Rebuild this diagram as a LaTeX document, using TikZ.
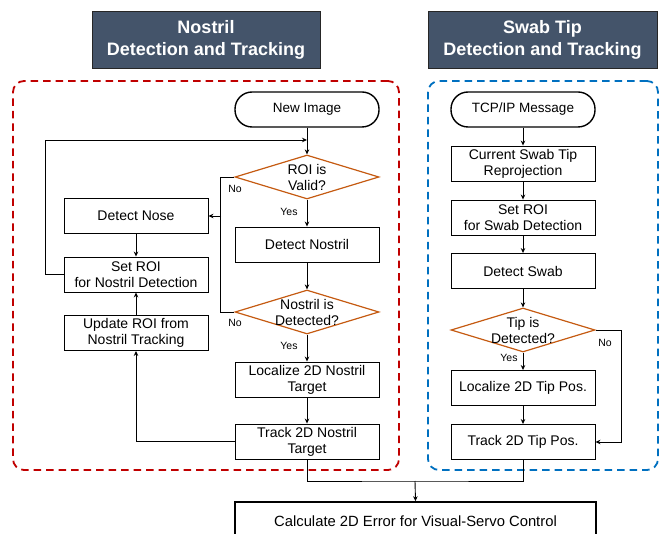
\documentclass[tikz,border=0pt]{standalone}
\usepackage{fontspec}
\setmainfont{Liberation Sans}
\usetikzlibrary{shapes.geometric,arrows.meta}
\definecolor{titlebg}{HTML}{44546A}
\definecolor{redd}{HTML}{C00000}
\definecolor{blued}{HTML}{0070C0}
\definecolor{orng}{HTML}{C55A11}
\begin{document}
\begin{tikzpicture}[x=1pt,y=-1pt,
  box/.style={draw=black, line width=0.9pt, minimum width=144pt, minimum height=35pt, inner sep=0pt, align=center, font=\fontsize{14}{16}\selectfont},
  term/.style={draw=black, line width=1.4pt, rounded corners=17pt, minimum width=144pt, minimum height=35pt, inner sep=0pt, font=\fontsize{13.5}{16}\selectfont},
  dia/.style={diamond, draw=orng, line width=1.2pt, minimum width=144pt, minimum height=44pt, inner sep=0pt},
  dtext/.style={align=center, inner sep=0pt, font=\fontsize{14}{16}\selectfont},
  yn/.style={font=\fontsize{10.5}{12}\selectfont, inner sep=0pt},
  titlebox/.style={fill=titlebg, draw=black!85, line width=0.8pt, text=white, font=\bfseries\fontsize{18}{22}\selectfont, align=center, minimum width=228pt, minimum height=57pt, inner sep=0pt},
  arr/.style={-{Stealth[length=5pt,width=4.5pt]}, line width=0.9pt},
  ln/.style={line width=0.9pt},
  grp/.style={dash pattern=on 7.5pt off 5pt, line width=1.8pt, rounded corners=11pt, minimum width=386pt, minimum height=389pt, inner sep=0pt}
]
\clip (0,0) rectangle (661,534);
% titles
\node[titlebox] (t1) at (206,39.5) {Nostril\\Detection and Tracking};
\node[titlebox, minimum width=229pt] (t2) at (542.5,39.5) {Swab Tip\\Detection and Tracking};
% groups
\node[grp, draw=redd] (g1) at (206,275.5) {};
\node[grp, draw=blued, minimum width=230pt] (g2) at (543,275.5) {};
% left column
\node[term] (newimg) at (307,109.5) {New Image};
\node[dia] (roi) at (307,177) {};
\node[dtext] (roit) at (roi) {ROI is\\Valid?};
\node[box] (nose) at (136,216) {Detect Nose};
\node[box] (setroi) at (136,274.5) {Set ROI\\for Nostril Detection};
\node[box] (upd) at (136,333) {Update ROI from\\Nostril Tracking};
\node[box] (detn) at (307,244.5) {Detect Nostril};
\node[dia] (ndet) at (307,312) {};
\node[dtext] (ndett) at (ndet) {Nostril is\\Detected?};
\node[box] (loc) at (307,379.5) {Localize 2D Nostril\\Target};
\node[box] (trk) at (307,441.5) {Track 2D Nostril\\Target};
% right column
\node[term] (tcp) at (523,109.5) {TCP/IP Message};
\node[box] (cur) at (523,163.5) {Current Swab Tip\\Reprojection};
\node[box] (sroi) at (523,217.5) {Set ROI\\for Swab Detection};
\node[box] (dsw) at (523,271) {Detect Swab};
\node[dia] (tip) at (523,330) {};
\node[dtext] (tipt) at (tip) {Tip is\\Detected?};
\node[box] (ltip) at (523,388) {Localize 2D Tip Pos.};
\node[box] (ttip) at (523,442) {Track 2D Tip Pos.};
% bottom
\node[box, line width=1.5pt, minimum width=361pt, minimum height=38pt, font=\fontsize{14.8}{16}\selectfont] (calc) at (415.5,521) {Calculate 2D Error for Visual-Servo Control};
% labels
\node[yn] at (289,212) {Yes};
\node[yn] at (289,346) {Yes};
\node[yn] at (235,189) {No};
\node[yn] at (235,323) {No};
\node[yn] at (509,358) {Yes};
\node[yn] at (605,343) {No};
% connectors left
\coordinate (j1) at (307,140);
\coordinate (nx) at (221,216);
\coordinate (m) at (415,481);
\draw[arr] (newimg.south) -- (roi.north);
\draw[arr] (setroi.west) -- ++(-18,0) |- (j1);
\draw[ln] (roi.west) -- ++(-14,0) |- (ndet.west);
\draw[arr] (nx) -- (nose.east);
\draw[arr] (roi.south) -- (detn.north);
\draw[arr] (detn.south) -- (ndet.north);
\draw[arr] (ndet.south) -- (loc.north);
\draw[arr] (loc.south) -- (trk.north);
\draw[arr] (trk.west) -| (upd.south);
\draw[arr] (upd.north) -- (setroi.south);
\draw[arr] (nose.south) -- (setroi.north);
% connectors right
\draw[arr] (tcp.south) -- (cur.north);
\draw[arr] (cur.south) -- (sroi.north);
\draw[arr] (sroi.south) -- (dsw.north);
\draw[arr] (dsw.south) -- (tip.north);
\draw[arr] (tip.south) -- (ltip.north);
\draw[arr] (ltip.south) -- (ttip.north);
\draw[arr] (tip.east) -- ++(26,0) |- (ttip.east);
% merge
\draw[ln] (trk.south) |- (m) -| (ttip.south);
\draw[arr] (m) -- (calc.north);
\end{tikzpicture}
\end{document}
